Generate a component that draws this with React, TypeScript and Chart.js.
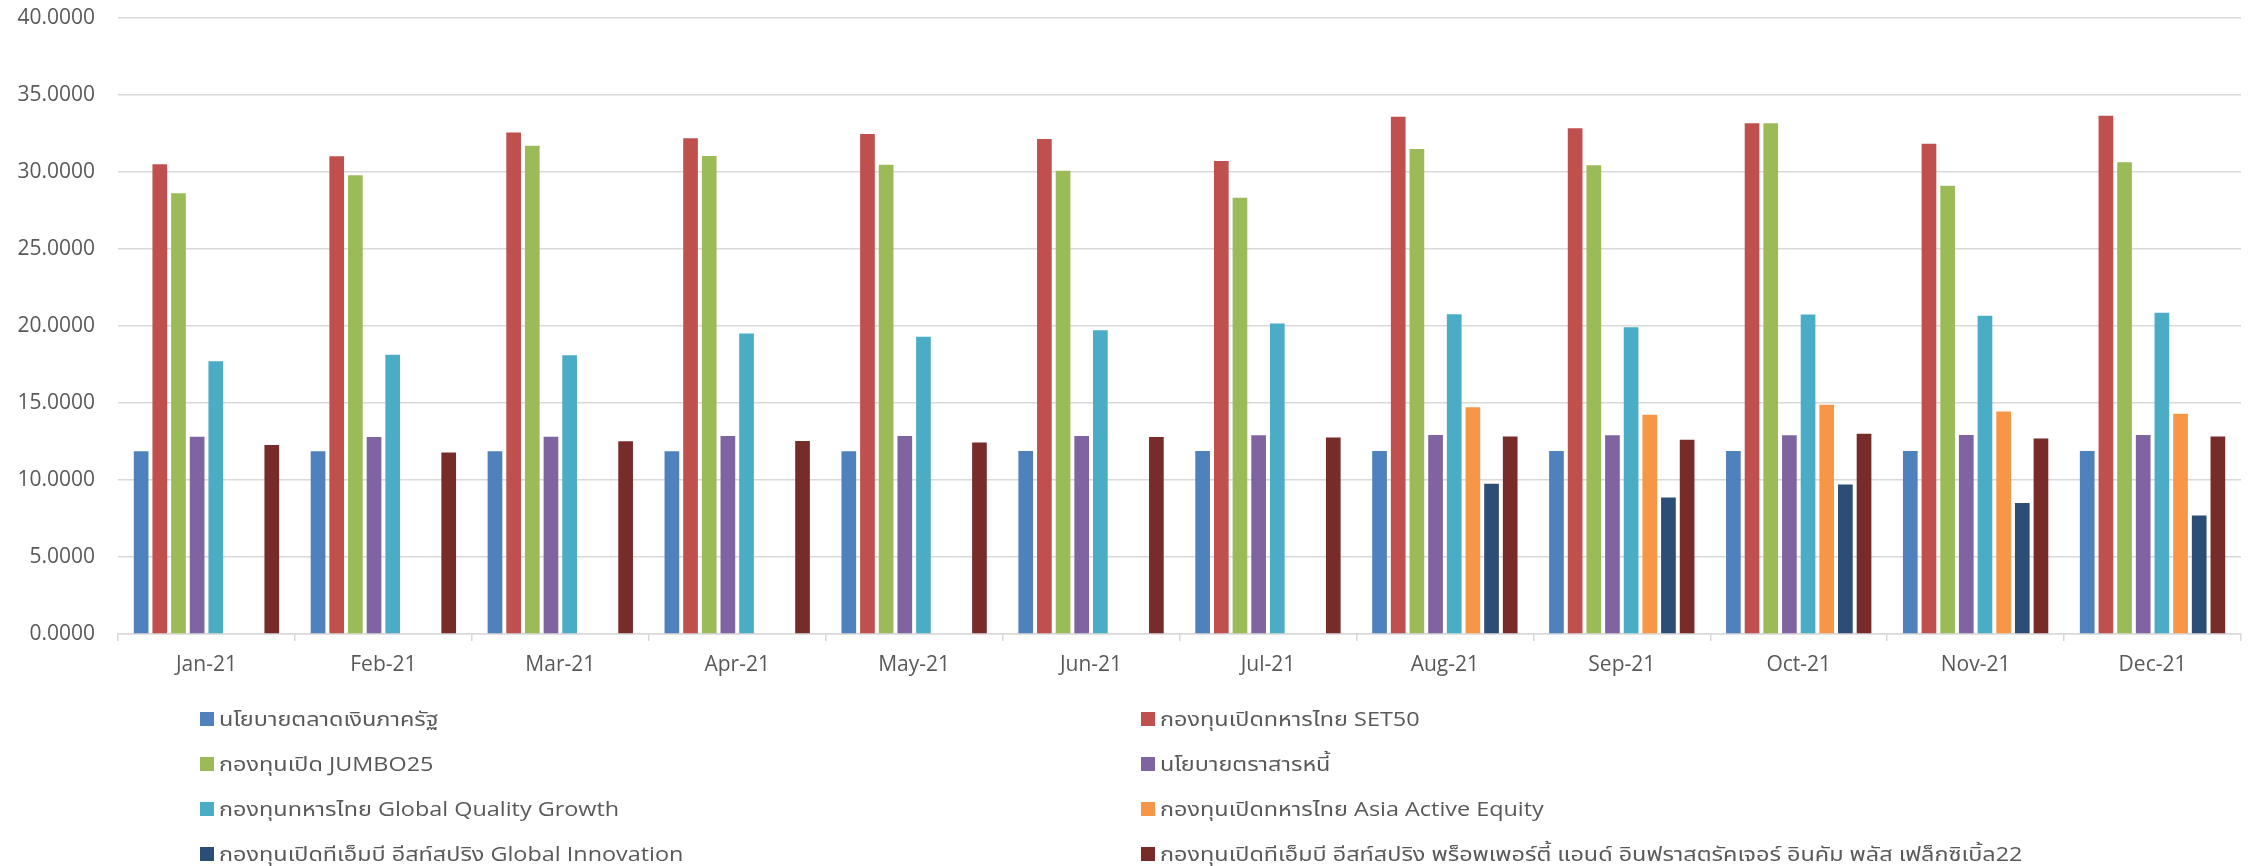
import React, { useEffect, useRef } from "react";
import { Chart, registerables } from "chart.js";

Chart.register(...registerables);

const categories = ["Jan-21", "Feb-21", "Mar-21", "Apr-21", "May-21", "Jun-21", "Jul-21", "Aug-21", "Sep-21", "Oct-21", "Nov-21", "Dec-21"];

const seriesNames = [
  "นโยบายตลาดเงินภาครัฐ",
  "กองทุนเปิดทหารไทย SET50",
  "กองทุนเปิด JUMBO25",
  "นโยบายตราสารหนี้",
  "กองทุนทหารไทย Global Quality Growth",
  "กองทุนเปิดทหารไทย Asia Active Equity",
  "กองทุนเปิดทีเอ็มบี อีสท์สปริง Global Innovation",
  "กองทุนเปิดทีเอ็มบี อีสท์สปริง พร็อพเพอร์ตี้ แอนด์ อินฟราสตรัคเจอร์ อินคัม พลัส เฟล็กซิเบิ้ล22",
];

const moneyMarket = [11.86, 11.86, 11.87, 11.87, 11.87, 11.88, 11.88, 11.88, 11.88, 11.89, 11.89, 11.89];
const set50 = [30.51, 31.02, 32.56, 32.19, 32.47, 32.15, 30.71, 33.59, 32.84, 33.16, 31.84, 33.66];
const jumbo25 = [28.62, 29.79, 31.71, 31.04, 30.47, 30.08, 28.33, 31.5, 30.44, 33.16, 29.1, 30.64];
const debtPolicy = [12.81, 12.79, 12.81, 12.86, 12.85, 12.86, 12.9, 12.93, 12.91, 12.91, 12.93, 12.93];
const globalQuality = [17.71, 18.14, 18.1, 19.51, 19.3, 19.72, 20.16, 20.76, 19.92, 20.74, 20.67, 20.86];
const asiaActive = [null, null, null, null, null, null, null, 14.73, 14.23, 14.88, 14.44, 14.3];
const globalInnovation = [null, null, null, null, null, null, null, 9.76, 8.87, 9.71, 8.51, 7.69];
const propertyInfra = [12.28, 11.78, 12.52, 12.54, 12.43, 12.8, 12.76, 12.83, 12.62, 13.0, 12.69, 12.83];

const seriesValues = [moneyMarket, set50, jumbo25, debtPolicy, globalQuality, asiaActive, globalInnovation, propertyInfra];
const seriesColors = ["#4F81BD", "#C0504D", "#9BBB59", "#8064A2", "#4BACC6", "#F79646", "#2C4D75", "#772C2A"];

const yTickValues = [0, 5, 10, 15, 20, 25, 30, 35, 40];

const FONT = "'Open Sans', 'Noto Sans Thai', 'Noto Sans', sans-serif";
const TEXT_COLOR = "#595959";
const GRID_COLOR = "#D9D9D9";

const legendPlugin = {
  id: "twoColLegend",
  afterDraw(chart: any) {
    const ctx = chart.ctx;
    const ds = chart.data.datasets;
    const colX = [200, 1141];
    const rowY = [719, 764, 809, 854];
    const stretch = 1.17;
    ctx.save();
    ctx.font = `20px ${FONT}`;
    ctx.textBaseline = "middle";
    ctx.textAlign = "left";
    ds.forEach((d: any, i: number) => {
      const col = i % 2;
      const row = Math.floor(i / 2);
      const x = colX[col];
      const y = rowY[row];
      ctx.fillStyle = d.backgroundColor;
      ctx.fillRect(x, y - 7, 14, 14);
      ctx.fillStyle = TEXT_COLOR;
      ctx.save();
      ctx.translate(x + 19, y + 1);
      ctx.scale(stretch, 1);
      ctx.fillText(d.label, 0, 0);
      ctx.restore();
    });
    ctx.restore();
  },
};

export default function App() {
  const ref = useRef<HTMLCanvasElement | null>(null);

  useEffect(() => {
    document.body.style.margin = "0";
    const canvas = ref.current;
    if (!canvas) return;
    const chart = new Chart(canvas, {
      type: "bar",
      data: {
        labels: categories,
        datasets: seriesNames.map((name, i) => ({
          label: name,
          data: seriesValues[i] as any,
          backgroundColor: seriesColors[i],
          borderWidth: 0,
          categoryPercentage: 0.844,
          barPercentage: 0.787,
        })),
      },
      options: {
        responsive: false,
        animation: false,
        devicePixelRatio: 1,
        layout: { padding: { left: 0, right: 18, top: 18, bottom: 172 } },
        plugins: {
          legend: { display: false },
          tooltip: { enabled: false },
          title: { display: false },
        },
        scales: {
          x: {
            grid: {
              display: true,
              drawOnChartArea: false,
              drawTicks: true,
              tickLength: 7,
              color: GRID_COLOR,
              lineWidth: 1.5,
              offset: true,
            },
            border: { display: true, color: GRID_COLOR, width: 1.5 },
            ticks: {
              font: { family: FONT, size: 21 },
              color: TEXT_COLOR,
              padding: 11,
              maxRotation: 0,
              autoSkip: false,
            },
            afterFit(scale: any) {
              scale.height = 60;
              scale.paddingLeft = 0;
              scale.paddingRight = 0;
            },
          },
          y: {
            min: 0,
            max: 40,
            afterBuildTicks(scale: any) {
              scale.ticks = yTickValues.map((v) => ({ value: v }));
            },
            grid: {
              color: GRID_COLOR,
              lineWidth: 1.5,
              drawTicks: false,
            },
            border: { display: false },
            ticks: {
              font: { family: FONT, size: 21 },
              color: TEXT_COLOR,
              padding: 23,
              callback: (v: any) => Number(v).toFixed(4),
            },
            afterFit(scale: any) {
              scale.width = 118;
              scale.paddingTop = 0;
              scale.paddingBottom = 0;
            },
          },
        },
      },
      plugins: [legendPlugin],
    });
    return () => chart.destroy();
  }, []);

  return (
    <div style={{ width: 2259, height: 866, overflow: "hidden" }}>
      <canvas ref={ref} width={2259} height={866} style={{ display: "block", width: 2259, height: 866 }} />
    </div>
  );
}
